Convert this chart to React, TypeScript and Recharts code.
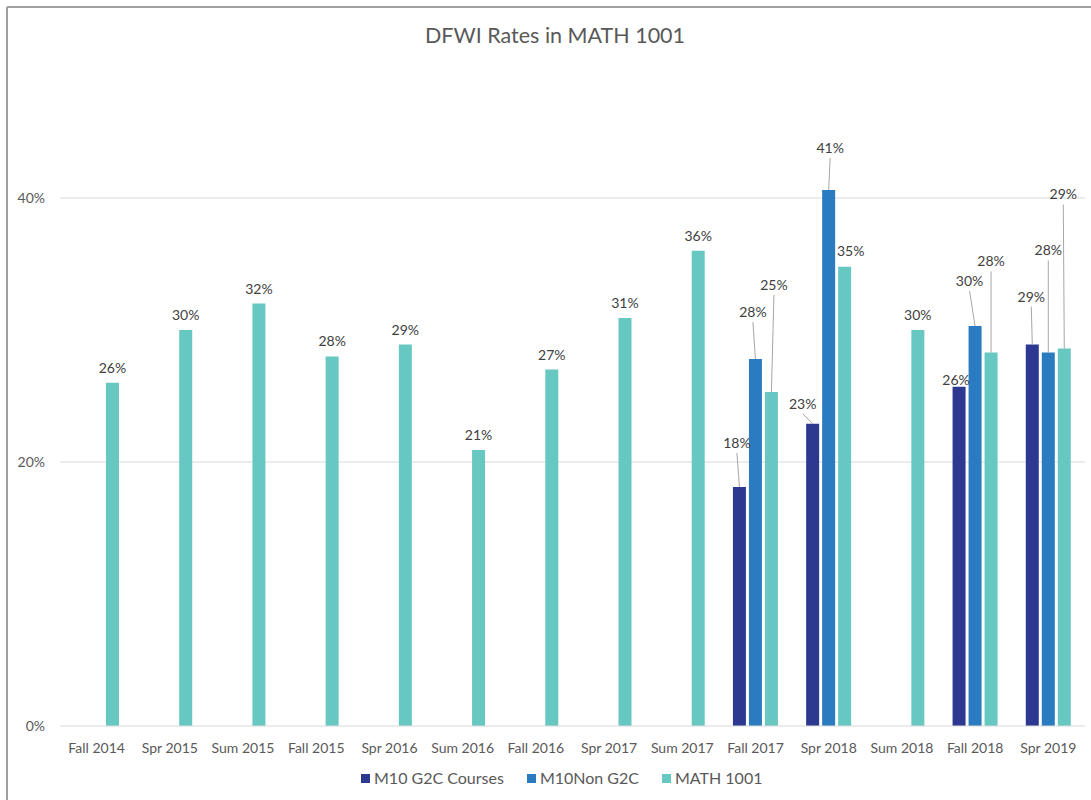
import React from "react";
import { BarChart, Bar, XAxis, YAxis, CartesianGrid, Legend, LabelList } from "recharts";

const categories = ["Fall 2014", "Spr 2015", "Sum 2015", "Fall 2015", "Spr 2016", "Sum 2016", "Fall 2016", "Spr 2017", "Sum 2017", "Fall 2017", "Spr 2018", "Sum 2018", "Fall 2018", "Spr 2019"];
const g2cValues: (number | null)[] = [null, null, null, null, null, null, null, null, null, 18.1, 22.9, null, 25.7, 28.9];
const nonG2cValues: (number | null)[] = [null, null, null, null, null, null, null, null, null, 27.8, 40.6, null, 30.3, 28.3];
const mathValues: (number | null)[] = [26, 30, 32, 28, 28.9, 20.9, 27, 30.9, 36, 25.3, 34.8, 30, 28.3, 28.6];
const yTicks = [0, 20, 40];
const gridValues = [20, 40];

const SERIES = [
  { key: "g2c", name: "M10 G2C Courses", color: "#2D3991", values: g2cValues },
  { key: "nong2c", name: "M10Non G2C", color: "#2A7BC0", values: nonG2cValues },
  { key: "math", name: "MATH 1001", color: "#66C8C1", values: mathValues },
];

const data = categories.map((c, i) => ({
  cat: c,
  g2c: g2cValues[i],
  nong2c: nonG2cValues[i],
  math: mathValues[i],
}));

// label placement (offset from bar centre, height above bar top, leader line)
const LABEL_LAYOUT: Record<string, { dx: number; rise: number; line: boolean }> = {
  "g2c:9": { dx: -2.5, rise: 39, line: true },
  "nong2c:9": { dx: -2.5, rise: 42, line: true },
  "math:9": { dx: 2.5, rise: 102, line: true },
  "g2c:10": { dx: -10, rise: 15, line: true },
  "nong2c:10": { dx: 1.5, rise: 37, line: true },
  "math:10": { dx: 6, rise: 11, line: false },
  "g2c:12": { dx: -3, rise: 2, line: false },
  "nong2c:12": { dx: -5.5, rise: 40, line: true },
  "math:12": { dx: 0, rise: 86, line: true },
  "g2c:13": { dx: -1, rise: 43, line: true },
  "nong2c:13": { dx: 0, rise: 97, line: true },
  "math:13": { dx: -1, rise: 149, line: true },
};

const FONT = "Lato, 'Open Sans', sans-serif";

const makeLabel = (seriesKey: string, values: (number | null)[]) => {
  const nonNull = values.map((v, i) => (v == null ? -1 : i)).filter((i) => i >= 0);
  return (props: any) => {
    const vb = props.viewBox || {};
    const x = Number(props.x ?? vb.x);
    const y = Number(props.y ?? vb.y);
    const width = Number(props.width ?? vb.width);
    const value = props.value;
    const index = props.index;
    if (value == null || isNaN(x)) return null;
    let dataIdx = -1;
    if (props.payload && props.payload.cat) dataIdx = categories.indexOf(props.payload.cat);
    if (dataIdx < 0) dataIdx = nonNull[index] ?? index;
    const cx = x + width / 2;
    const lay = LABEL_LAYOUT[`${seriesKey}:${dataIdx}`];
    const dx = lay ? lay.dx : 0;
    const rise = lay ? lay.rise : 10;
    const line = lay ? lay.line : false;
    const lx = cx + dx;
    const base = y - rise;
    return (
      <g>
        {line && <line x1={lx} y1={base + 5} x2={cx} y2={y} stroke="#a6a6a6" strokeWidth={1} />}
        <text x={lx} y={base} textAnchor="middle" fill="#404040" fontSize={14} fontFamily={FONT}>
          {Math.round(Number(value))}%
        </text>
      </g>
    );
  };
};

const LegendContent = () => (
  <div style={{ display: "flex", alignItems: "center", paddingLeft: 361, fontFamily: FONT, fontSize: 16, color: "#595959", lineHeight: "20px", height: 20 }}>
    {SERIES.map((s) => (
      <div key={s.key} style={{ display: "flex", alignItems: "center", marginRight: 23 }}>
        <div style={{ width: 9, height: 9, background: s.color, marginRight: 4 }} />
        <span>{s.name}</span>
      </div>
    ))}
  </div>
);

export default function App() {
  return (
    <div style={{ position: "absolute", left: 0, top: 0, width: 1091, height: 800, background: "#fff", overflow: "hidden" }}>
      <BarChart
        width={1091}
        height={800}
        data={data}
        margin={{ top: 66, right: 6, bottom: 0, left: 0 }}
        barSize={13}
        barGap={3}
      >
        <CartesianGrid vertical={false} stroke="#d9d9d9" horizontalValues={gridValues} />
        <XAxis
          dataKey="cat"
          axisLine={{ stroke: "#d9d9d9" }}
          tickLine={false}
          tickSize={0}
          tickMargin={17}
          height={54}
          interval={0}
          tick={{ fill: "#595959", fontSize: 14, fontFamily: FONT }}
        />
        <YAxis
          domain={[0, 50]}
          ticks={yTicks}
          width={60}
          axisLine={false}
          tickLine={false}
          tickSize={0}
          tickMargin={15}
          tickFormatter={(v: number) => `${v}%`}
          tick={{ fill: "#595959", fontSize: 14, fontFamily: FONT }}
        />
        <Legend content={<LegendContent />} height={20} wrapperStyle={{ left: 0, top: 768, width: 1091 }} />
        {SERIES.map((s) => (
          <Bar key={s.key} dataKey={s.key} name={s.name} fill={s.color} isAnimationActive={false}>
            <LabelList dataKey={s.key} content={makeLabel(s.key, s.values)} />
          </Bar>
        ))}
      </BarChart>
      <svg width={1091} height={800} style={{ position: "absolute", left: 0, top: 0, pointerEvents: "none" }}>
        <line x1={7} y1={7} x2={1091} y2={7} stroke="#a0a0a0" strokeWidth={2} />
        <line x1={7} y1={7} x2={7} y2={800} stroke="#a0a0a0" strokeWidth={2} />
        <text x={555} y={43} textAnchor="middle" fill="#595959" fontSize={21.5} fontFamily={FONT}>
          DFWI Rates in MATH 1001
        </text>
      </svg>
    </div>
  );
}
